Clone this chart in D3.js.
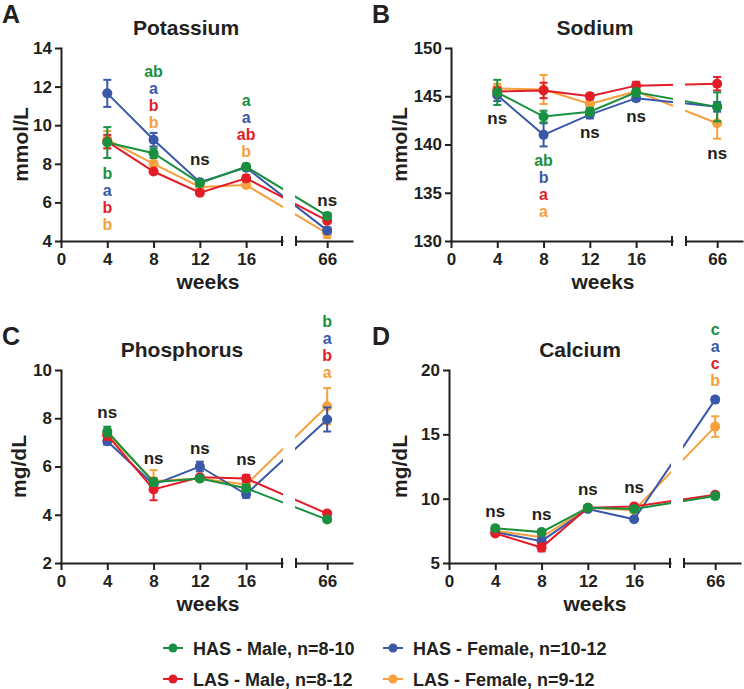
<!DOCTYPE html>
<html lang="en">
<head>
<meta charset="UTF-8">
<title>Serum electrolytes</title>
<style>
body { margin: 0; background: #fff; }
svg text {
  font-family: "Liberation Sans", Arial, sans-serif;
  font-weight: bold;
  fill: #231f20;
}
.axis path, .axis line { stroke: #231f20; stroke-width: 2px; }
.axis text { font-size: 17px; }
</style>
<script src="https://cdn.jsdelivr.net/npm/d3@7"></script>
</head>
<body>
<div id="canvas"></div>
<script>
// sampling points (weeks)
var weeks = [4, 8, 12, 16, 66];
var leftTicks = [0, 4, 8, 12, 16];

// groups: HAS male, HAS female, LAS male, LAS female
var groupNames = ["HAS - Male, n=8-10", "HAS - Female, n=10-12", "LAS - Male, n=8-12", "LAS - Female, n=9-12"];
var groupColors = ["#19903f", "#3a58a8", "#e31d28", "#f7a03e"];
var drawOrder = [3, 1, 2, 0];

// Potassium (mmol/L) mean / sem
var kHasM = [9.1, 8.55, 7.0, 7.85, 5.3];
var kHasMErr = [0.8, 0.25, 0.15, 0.15, 0.15];
var kHasF = [11.65, 9.25, 7.05, 7.8, 4.55];
var kHasFErr = [0.7, 0.35, 0.1, 0.1, 0.15];
var kLasM = [9.15, 7.6, 6.5, 7.25, 5.05];
var kLasMErr = [0.35, 0.1, 0.1, 0.15, 0.1];
var kLasF = [9.25, 8.0, 6.8, 6.9, 4.4];
var kLasFErr = [0.45, 0.1, 0.1, 0.1, 0.25];

// Sodium (mmol/L)
var naHasM = [145.4, 142.9, 143.4, 145.4, 143.9];
var naHasMErr = [1.3, 0.6, 0.4, 0.4, 1.5];
var naHasF = [145.1, 141.0, 143.1, 144.8, 143.9];
var naHasFErr = [0.6, 1.2, 0.4, 0.3, 0.5];
var naLasM = [145.5, 145.6, 145.0, 146.1, 146.3];
var naLasMErr = [0.4, 0.8, 0.3, 0.4, 0.7];
var naLasF = [145.8, 145.7, 144.2, 145.5, 142.2];
var naLasFErr = [0.5, 1.5, 0.4, 0.4, 1.6];

// Phosphorus (mg/dL)
var pHasM = [7.45, 5.35, 5.5, 5.1, 3.8];
var pHasMErr = [0.2, 0.15, 0.1, 0.15, 0.1];
var pHasF = [7.05, 5.25, 6.0, 4.85, 7.95];
var pHasFErr = [0.15, 0.15, 0.2, 0.15, 0.5];
var pLasM = [7.3, 5.05, 5.55, 5.5, 4.05];
var pLasMErr = [0.2, 0.45, 0.1, 0.15, 0.1];
var pLasF = [7.35, 5.4, 5.5, 5.25, 8.5];
var pLasFErr = [0.2, 0.45, 0.1, 0.1, 0.75];

// Calcium (mg/dL)
var caHasM = [7.7, 7.4, 9.3, 9.2, 10.2];
var caHasMErr = [0.2, 0.2, 0.1, 0.2, 0.2];
var caHasF = [7.4, 6.7, 9.2, 8.4, 17.7];
var caHasFErr = [0.15, 0.3, 0.1, 0.15, 0.2];
var caLasM = [7.3, 6.2, 9.3, 9.4, 10.3];
var caLasMErr = [0.15, 0.3, 0.1, 0.15, 0.15];
var caLasF = [7.5, 7.0, 9.3, 9.1, 15.6];
var caLasFErr = [0.15, 0.2, 0.1, 0.2, 0.8];

// significance letters: [week, y (data units) of first line, letters per group or "ns"]
var kMarks = [[4, 7.52, ["b", "a", "b", "b"]], [8, 12.8, ["ab", "a", "b", "b"]], [12, 8.25, "ns"], [16, 11.3, ["a", "a", "ab", "b"]], [66, 6.1, "ns"]];
var naMarks = [[4, 142.75, "ns"], [8, 138.4, ["ab", "b", "a", "a"]], [12, 141.3, "ns"], [16, 142.95, "ns"], [66, 139.1, "ns"]];
var pMarks = [[4, 8.27, "ns"], [8, 6.36, "ns"], [12, 6.77, "ns"], [16, 6.32, "ns"], [66, 12.04, ["b", "a", "b", "a"]]];
var caMarks = [[4, 9.04, "ns"], [8, 8.8, "ns"], [12, 10.75, "ns"], [16, 10.9, "ns"], [66, 23.2, ["c", "a", "c", "b"]]];

var panels = [
  {tag: "A", title: "Potassium", unit: "mmol/L", left: 61, top: 48, bottom: 241, domain: [4, 14], ticks: [4, 6, 8, 10, 12, 14],
   titleX: 186, labelX: 28, weeksX: 208, tagX: 2,
   means: [kHasM, kHasF, kLasM, kLasF], errs: [kHasMErr, kHasFErr, kLasMErr, kLasFErr], marks: kMarks},
  {tag: "B", title: "Sodium", unit: "mmol/L", left: 451, top: 48, bottom: 241, domain: [130, 150], ticks: [130, 135, 140, 145, 150],
   titleX: 595, labelX: 407, weeksX: 603, tagX: 372,
   means: [naHasM, naHasF, naLasM, naLasF], errs: [naHasMErr, naHasFErr, naLasMErr, naLasFErr], marks: naMarks},
  {tag: "C", title: "Phosphorus", unit: "mg/dL", left: 61, top: 370, bottom: 563, domain: [2, 10], ticks: [2, 4, 6, 8, 10],
   titleX: 182, labelX: 26, weeksX: 208, tagX: 2,
   means: [pHasM, pHasF, pLasM, pLasF], errs: [pHasMErr, pHasFErr, pLasMErr, pLasFErr], marks: pMarks},
  {tag: "D", title: "Calcium", unit: "mg/dL", left: 449, top: 370, bottom: 563, domain: [5, 20], ticks: [5, 10, 15, 20],
   titleX: 580, labelX: 407, weeksX: 595, tagX: 372,
   means: [caHasM, caHasF, caLasM, caLasF], errs: [caHasMErr, caHasFErr, caLasMErr, caLasFErr], marks: caMarks}
];

var svg = d3.select("#canvas")
            .append("svg")
            .attr("width", 744)
            .attr("height", 689);

panels.forEach(function(p, pi) {
  var L = p.left;
  var xL = d3.scaleLinear().domain([0, 19.1]).range([L, L + 221]);
  var xR = d3.scaleLinear().domain([63.3, 68.15]).range([L + 235, L + 291]);
  var xpos = function(w) { return w <= 20 ? xL(w) : xR(w); };
  var y = d3.scaleLinear().domain(p.domain).range([p.bottom, p.top]);

  var g = svg.append("g");

  // panel tag + title
  g.append("text").attr("x", p.tagX).attr("y", p.top - 25)
   .style("font-size", "25px").text(p.tag);
  g.append("text").attr("x", p.titleX).attr("y", p.top - 13)
   .attr("text-anchor", "middle").style("font-size", "21px").text(p.title);

  // axes
  g.append("g").attr("class", "axis")
   .attr("transform", "translate(" + L + ",0)")
   .call(d3.axisLeft(y).tickValues(p.ticks).tickSize(6).tickPadding(3).tickSizeOuter(0));

  g.append("g").attr("class", "axis")
   .attr("transform", "translate(0," + p.bottom + ")")
   .call(d3.axisBottom(xL).tickValues(leftTicks).tickFormat(d3.format("d"))
           .tickSize(7).tickPadding(5).tickSizeOuter(0));
  g.append("g").attr("class", "axis")
   .attr("transform", "translate(0," + p.bottom + ")")
   .call(d3.axisBottom(xR).tickValues([66]).tickFormat(d3.format("d"))
           .tickSize(7).tickPadding(5).tickSizeOuter(0));

  // break marks
  [xL.range()[1], xR.range()[0]].forEach(function(bx) {
    g.append("line")
     .attr("x1", bx).attr("x2", bx)
     .attr("y1", p.bottom - 5).attr("y2", p.bottom + 5)
     .attr("stroke", "#231f20").attr("stroke-width", 2);
  });

  g.selectAll(".axis .domain").attr("stroke-linecap", "square");

  // axis titles
  g.append("text")
   .attr("transform", "translate(" + p.labelX + "," + ((p.top + p.bottom) / 2) + ") rotate(-90)")
   .attr("text-anchor", "middle").style("font-size", "21px").text(p.unit);
  g.append("text").attr("x", p.weeksX).attr("y", p.bottom + 48)
   .attr("text-anchor", "middle").style("font-size", "21px").text("weeks");

  // clip out the axis gap
  var clipId = "gap" + pi;
  var clip = svg.append("clipPath").attr("id", clipId);
  clip.append("rect").attr("x", 0).attr("y", 0).attr("width", L + 222).attr("height", 689);
  clip.append("rect").attr("x", L + 234).attr("y", 0).attr("width", 744).attr("height", 689);

  var line = d3.line()
      .x(function(d) { return xpos(d.w); })
      .y(function(d) { return y(d.v); });

  drawOrder.forEach(function(gi) {
    var pts = weeks.map(function(w, i) {
      return {w: w, v: p.means[gi][i], e: p.errs[gi][i]};
    });
    var col = groupColors[gi];
    var s = g.append("g");

    s.append("path")
     .datum(pts)
     .attr("d", line)
     .attr("fill", "none")
     .attr("stroke", col)
     .attr("stroke-width", 2)
     .attr("clip-path", "url(#" + clipId + ")");

    var eb = s.selectAll(".err").data(pts).enter().append("g").attr("class", "err")
              .attr("stroke", col).attr("stroke-width", 2);
    eb.append("line")
      .attr("x1", function(d) { return xpos(d.w); })
      .attr("x2", function(d) { return xpos(d.w); })
      .attr("y1", function(d) { return y(d.v - d.e); })
      .attr("y2", function(d) { return y(d.v + d.e); });
    [-1, 1].forEach(function(sign) {
      eb.append("line")
        .attr("x1", function(d) { return xpos(d.w) - 4; })
        .attr("x2", function(d) { return xpos(d.w) + 4; })
        .attr("y1", function(d) { return y(d.v + sign * d.e); })
        .attr("y2", function(d) { return y(d.v + sign * d.e); });
    });

    s.selectAll("circle").data(pts).enter().append("circle")
     .attr("cx", function(d) { return xpos(d.w); })
     .attr("cy", function(d) { return y(d.v); })
     .attr("r", 5)
     .attr("fill", col);
  });

  // significance letters
  p.marks.forEach(function(m) {
    var cx = xpos(m[0]);
    var cy = y(m[1]);
    if (m[2] === "ns") {
      g.append("text").attr("x", cx).attr("y", cy + 6)
       .attr("text-anchor", "middle").style("font-size", "17px").text("ns");
    } else {
      m[2].forEach(function(t, i) {
        g.append("text").attr("x", cx).attr("y", cy + 6 + i * 17)
         .attr("text-anchor", "middle").style("font-size", "16px")
         .style("fill", groupColors[i]).text(t);
      });
    }
  });
});

// legend
var legendPos = [[173, 648], [393, 648], [173, 679], [393, 679]];
var legend = svg.append("g");
groupNames.forEach(function(name, i) {
  var lx = legendPos[i][0], ly = legendPos[i][1];
  legend.append("line")
        .attr("x1", lx - 10).attr("x2", lx + 10)
        .attr("y1", ly).attr("y2", ly)
        .attr("stroke", groupColors[i]).attr("stroke-width", 2);
  legend.append("circle").attr("cx", lx).attr("cy", ly).attr("r", 4.5).attr("fill", groupColors[i]);
  legend.append("text").attr("x", lx + 20).attr("y", ly + 6.5)
        .style("font-size", "18px").text(name);
});
</script>
</body>
</html>
